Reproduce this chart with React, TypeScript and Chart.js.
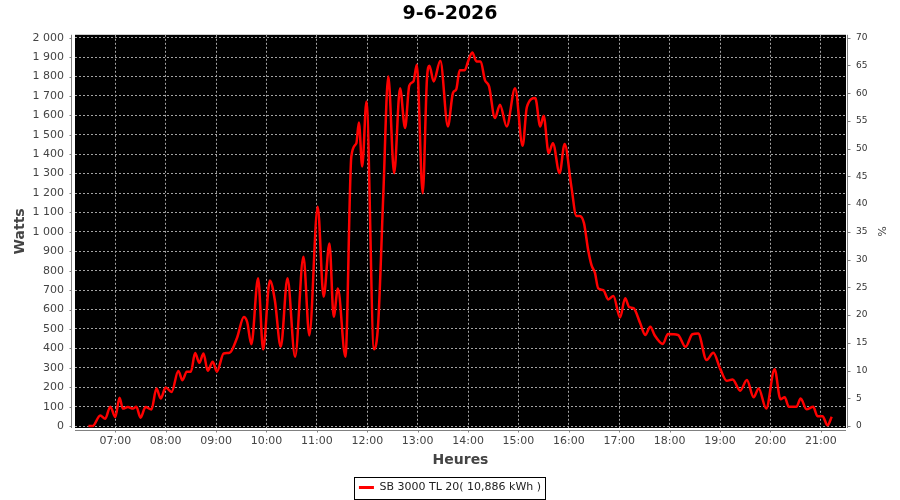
import { useEffect, useRef } from "react";
import { Chart, registerables } from "chart.js";

Chart.register(...registerables);

const chartTitle = "9-6-2026";
const seriesLabel = "SB 3000 TL 20( 10,886 kWh )";
const xTitle = "Heures";
const yTitle = "Watts";
const y2Title = "%";

// time of day (HH:MM) and power in watts
const times = [
  "06:28", "06:33", "06:42", "06:48", "06:54", "07:00", "07:05", "07:09", "07:15", "07:21",
  "07:25", "07:30", "07:36", "07:43", "07:49", "07:54", "08:00", "08:07", "08:15", "08:20",
  "08:25", "08:30", "08:35", "08:40", "08:45", "08:50", "08:56", "09:01", "09:09", "09:16",
  "09:25", "09:33", "09:37", "09:42", "09:50", "09:56", "10:04", "10:10", "10:17", "10:25",
  "10:34", "10:44", "10:51", "11:01", "11:08", "11:15", "11:20", "11:25", "11:34", "11:41",
  "11:47", "11:50", "11:54", "11:59", "12:08", "12:13", "12:19", "12:25", "12:32", "12:39",
  "12:45", "12:50", "12:55", "12:59", "13:06", "13:11", "13:14", "13:19", "13:27", "13:36",
  "13:42", "13:46", "13:50", "13:56", "14:00", "14:05", "14:10", "14:15", "14:20", "14:25",
  "14:32", "14:38", "14:46", "14:56", "15:05", "15:10", "15:20", "15:26", "15:30", "15:36",
  "15:41", "15:49", "15:55", "16:03", "16:09", "16:13", "16:18", "16:23", "16:27", "16:31",
  "16:35", "16:41", "16:47", "16:53", "17:01", "17:07", "17:12", "17:17", "17:25", "17:31",
  "17:37", "17:42", "17:52", "17:58", "18:10", "18:19", "18:27", "18:34", "18:44", "18:52",
  "19:00", "19:08", "19:15", "19:24", "19:32", "19:40", "19:46", "19:55", "20:05", "20:12",
  "20:17", "20:22", "20:31", "20:36", "20:43", "20:51", "20:56", "21:02", "21:08", "21:13",
];

const watts = [
  0, 0, 55, 38, 100, 47, 146, 90, 98, 90,
  100, 43, 98, 85, 193, 142, 198, 176, 284, 236,
  280, 280, 376, 326, 374, 285, 331, 280, 374, 377,
  455, 562, 536, 421, 761, 394, 750, 647, 408, 761,
  357, 872, 467, 1129, 666, 940, 563, 709, 357, 1388,
  1457, 1563, 1337, 1672, 395, 529, 1182, 1800, 1302, 1740,
  1535, 1753, 1775, 1861, 1199, 1783, 1856, 1775, 1881, 1543,
  1715, 1735, 1832, 1832, 1878, 1924, 1878, 1878, 1783, 1749,
  1586, 1655, 1543, 1740, 1443, 1643, 1689, 1543, 1598, 1406,
  1457, 1302, 1453, 1233, 1082, 1082, 1045, 907, 829, 790,
  709, 700, 652, 670, 559, 658, 612, 607, 529, 469,
  512, 469, 423, 474, 469, 408, 473, 477, 340, 377,
  297, 233, 240, 182, 237, 148, 194, 90, 292, 138,
  148, 99, 99, 142, 86, 99, 51, 51, 4, 48,
];

const hourTicks = [7, 8, 9, 10, 11, 12, 13, 14, 15, 16, 17, 18, 19, 20, 21];
const wattTicks = [
  0, 100, 200, 300, 400, 500, 600, 700, 800, 900, 1000,
  1100, 1200, 1300, 1400, 1500, 1600, 1700, 1800, 1900, 2000,
];
const percentTicks = [0, 5, 10, 15, 20, 25, 30, 35, 40, 45, 50, 55, 60, 65, 70];

const FONT = "'DejaVu Sans', sans-serif";

function toHours(t: string) {
  const [h, m] = t.split(":").map(Number);
  return h + m / 60;
}

function formatHour(v: number) {
  return String(Math.round(v)).padStart(2, "0") + ":00";
}

function formatWatts(v: number) {
  return String(v).replace(/\B(?=(\d{3})+(?!\d))/g, " ");
}

// black plot background
const plotBackground = {
  id: "plotBackground",
  beforeDraw(chart: any) {
    const { ctx, chartArea } = chart;
    ctx.save();
    ctx.fillStyle = "#000000";
    ctx.fillRect(chartArea.left, chartArea.top, chartArea.width, chartArea.height);
    ctx.restore();
  },
};

// axis lines sit a little off the plot, plus the framed legend
const axisFrame = {
  id: "axisFrame",
  afterDraw(chart: any) {
    const { ctx, chartArea, scales } = chart;
    ctx.save();
    ctx.strokeStyle = "#808080";
    ctx.lineWidth = 1;
    ctx.beginPath();
    const lx = Math.round(chartArea.left) - 3.5;
    ctx.moveTo(lx, chartArea.top);
    ctx.lineTo(lx, chartArea.bottom);
    scales.y.ticks.forEach((t: any) => {
      const py = Math.round(scales.y.getPixelForValue(t.value)) + 0.5;
      ctx.moveTo(lx - 2, py);
      ctx.lineTo(lx, py);
    });
    const rx = Math.round(chartArea.right) + 1.5;
    ctx.moveTo(rx, chartArea.top);
    ctx.lineTo(rx, chartArea.bottom);
    scales.y1.ticks.forEach((t: any) => {
      const py = Math.round(scales.y1.getPixelForValue(t.value)) + 0.5;
      ctx.moveTo(rx, py);
      ctx.lineTo(rx + 3, py);
    });
    const by = Math.round(chartArea.bottom) + 2.5;
    ctx.moveTo(chartArea.left, by);
    ctx.lineTo(chartArea.right, by);
    scales.x.ticks.forEach((t: any) => {
      const px = Math.round(scales.x.getPixelForValue(t.value)) + 0.5;
      ctx.moveTo(px, by);
      ctx.lineTo(px, by + 2);
    });
    ctx.stroke();

    const hb = chart.legend?.legendHitBoxes?.[0];
    if (hb) {
      const cy = hb.top + hb.height / 2;
      ctx.strokeStyle = "#000000";
      ctx.strokeRect(Math.round(hb.left) - 4.5, Math.round(cy) - 10.5, Math.round(hb.width) + 9, 22);
    }
    ctx.restore();
  },
};

export default function App() {
  const canvasRef = useRef<HTMLCanvasElement | null>(null);
  const chartRef = useRef<Chart | null>(null);

  useEffect(() => {
    const ctx = canvasRef.current?.getContext("2d");
    if (!ctx) return;

    if (chartRef.current) {
      chartRef.current.destroy();
    }

    const points = times.map((t, i) => ({ x: toHours(t), y: watts[i] }));

    chartRef.current = new Chart(ctx, {
      type: "line",
      data: {
        datasets: [
          {
            label: seriesLabel,
            data: points,
            borderColor: "#ff0000",
            backgroundColor: "#ff0000",
            borderWidth: 2.5,
            pointRadius: 0,
            cubicInterpolationMode: "monotone",
            fill: false,
            yAxisID: "y",
          },
        ],
      },
      options: {
        animation: false,
        responsive: true,
        maintainAspectRatio: false,
        layout: { padding: { left: 0, right: 0, top: 0, bottom: -3 } },
        plugins: {
          title: {
            display: true,
            text: chartTitle,
            color: "#000000",
            font: { family: FONT, size: 19, weight: "bold" },
            padding: { top: 3, bottom: 9 },
          },
          legend: {
            display: true,
            position: "bottom",
            labels: {
              color: "#222222",
              font: { family: FONT, size: 11 },
              boxWidth: 15,
              boxHeight: 3,
              padding: 6,
              generateLabels: (chart: any) =>
                Chart.defaults.plugins.legend.labels
                  .generateLabels(chart)
                  .map((item: any) => ({ ...item, lineWidth: 0 })),
            },
          },
          tooltip: { enabled: false },
        },
        scales: {
          x: {
            type: "linear",
            min: 6.2,
            max: 21.5,
            afterBuildTicks: (scale: any) => {
              scale.ticks = hourTicks.map((v) => ({ value: v }));
            },
            afterFit: (scale: any) => {
              scale.height = 48;
            },
            ticks: {
              color: "#444444",
              font: { family: FONT, size: 11 },
              padding: 7,
              maxRotation: 0,
              autoSkip: false,
              callback: (v: any) => formatHour(Number(v)),
            },
            grid: { color: "#a4a4a4", lineWidth: 1, drawTicks: false },
            border: { display: false, dash: [2, 2] },
            title: {
              display: true,
              text: xTitle,
              color: "#444444",
              font: { family: FONT, size: 14, weight: "bold" },
              padding: { top: 0, bottom: 7 },
            },
          },
          y: {
            type: "linear",
            position: "left",
            min: -10,
            max: 2015,
            afterBuildTicks: (scale: any) => {
              scale.ticks = wattTicks.map((v) => ({ value: v }));
            },
            afterFit: (scale: any) => {
              scale.width = 75;
            },
            ticks: {
              color: "#444444",
              font: { family: FONT, size: 11 },
              padding: 11,
              autoSkip: false,
              callback: (v: any) => formatWatts(Number(v)),
            },
            grid: { color: "#a4a4a4", lineWidth: 1, drawTicks: false },
            border: { display: false, dash: [2, 2] },
            title: {
              display: true,
              text: yTitle,
              color: "#444444",
              font: { family: FONT, size: 14, weight: "bold" },
              padding: { top: 12, bottom: 0 },
            },
          },
          y1: {
            type: "linear",
            position: "right",
            min: -0.35,
            max: 70.525,
            afterBuildTicks: (scale: any) => {
              scale.ticks = percentTicks.map((v) => ({ value: v }));
            },
            afterFit: (scale: any) => {
              scale.width = 54;
            },
            ticks: {
              color: "#333333",
              font: { family: FONT, size: 9 },
              padding: 10,
              autoSkip: false,
            },
            grid: { drawOnChartArea: false, drawTicks: false },
            border: { display: false },
            title: {
              display: true,
              text: y2Title,
              color: "#444444",
              font: { family: FONT, size: 11 },
              padding: { top: 13, bottom: 0 },
            },
          },
        },
      },
      plugins: [plotBackground, axisFrame],
    });

    return () => {
      if (chartRef.current) {
        chartRef.current.destroy();
        chartRef.current = null;
      }
    };
  }, []);

  return (
    <div style={{ position: "absolute", left: 0, top: 0, width: 900, height: 500, background: "#ffffff" }}>
      <canvas ref={canvasRef}></canvas>
    </div>
  );
}
